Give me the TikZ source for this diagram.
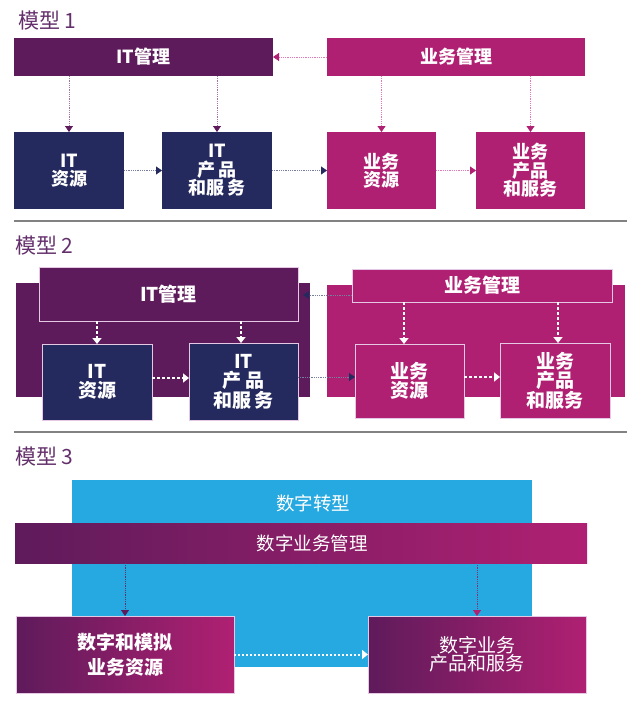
\documentclass[tikz,border=0pt]{standalone}
\usepackage{fontspec}
\setmainfont{Noto Sans CJK SC}
\usetikzlibrary{arrows.meta,calc}
\definecolor{dpur}{RGB}{94,27,91}
\definecolor{mag}{RGB}{176,32,114}
\definecolor{navyc}{RGB}{37,42,94}
\definecolor{sky}{RGB}{38,168,224}
\definecolor{ttlc}{RGB}{100,48,108}
\definecolor{edgec}{RGB}{228,200,228}
\definecolor{sepc}{RGB}{130,130,130}
\definecolor{lpur}{RGB}{165,115,165}
\definecolor{lmag}{RGB}{225,120,185}
\definecolor{lnavy}{RGB}{120,125,160}
\definecolor{mpur}{RGB}{105,45,105}
\definecolor{mmag}{RGB}{150,40,120}
\begin{document}
\begin{tikzpicture}[x=1pt,y=-1pt,
  blk/.style={inner sep=0pt, outer sep=0pt, align=center, text=white},
  fA/.style={font=\bfseries\fontsize{18}{18.5}\selectfont},
  fB/.style={font=\bfseries\fontsize{19}{19.5}\selectfont},
  ttl/.style={anchor=base west, inner sep=0pt, text=ttlc, font=\fontsize{21}{21}\selectfont},
  sepline/.style={draw=sepc, line width=1.4pt},
  bord/.style={draw=edgec, line width=0.9pt},
  arrP/.style={draw=lpur, densely dotted, line width=0.8pt, -{Triangle[length=6pt,width=8pt,color=dpur]}},
  arrM/.style={draw=lmag, densely dotted, line width=0.8pt, -{Triangle[length=6pt,width=8pt,color=mag]}},
  arrN/.style={draw=lnavy, densely dotted, line width=0.8pt, -{Triangle[length=6pt,width=8pt,color=navyc]}},
  arrP3/.style={draw=mpur, densely dotted, line width=0.8pt, -{Triangle[length=6pt,width=8pt,color=dpur]}},
  arrM3/.style={draw=mmag, densely dotted, line width=0.8pt, -{Triangle[length=6pt,width=8pt,color=mag]}},
  arrW/.style={draw=white, dash pattern=on 3pt off 2pt, line width=1.6pt, -{Triangle[length=6pt,width=9pt]}},
  arrW3/.style={draw=white, dash pattern=on 2pt off 2pt, line width=2pt, -{Triangle[length=6pt,width=9pt]}},
  grad/.style={left color=dpur, right color=mag}
]
\useasboundingbox (0,0) rectangle (641,713);

% ---------------- Model 1 ----------------
\node[ttl] (t1) at (18,28) {模型 1};
\node[blk,fA,fill=dpur,minimum width=259pt,minimum height=38pt] (itm1) at (143.5,57) {IT管理};
\node[blk,fA,fill=mag,minimum width=258pt,minimum height=38pt] (bm1) at (456,57) {业务管理};
\node[blk,fA,fill=navyc,minimum width=110pt,minimum height=77pt] (itr1) at (69,170.5) {IT\\资源};
\node[blk,fA,fill=navyc,minimum width=110pt,minimum height=77pt] (itp1) at (217,170.5) {IT\\产\,品\\和服\,务};
\node[blk,fA,fill=mag,minimum width=109pt,minimum height=77pt] (br1) at (381.5,170.5) {业务\\资源};
\node[blk,fA,fill=mag,minimum width=109pt,minimum height=77pt] (bp1) at (530.5,170.5) {业务\\产品\\和服务};

\draw[arrP] (itm1.south -| itr1.north) -- (itr1.north);
\draw[arrP] (itm1.south -| itp1.north) -- (itp1.north);
\draw[arrM] (bm1.south -| br1.north) -- (br1.north);
\draw[arrM] (bm1.south -| bp1.north) -- (bp1.north);
\draw[arrM] (bm1.west) -- (itm1.east);
\draw[arrN] (itr1.east) -- (itp1.west);
\draw[arrN] (itp1.east) -- (br1.west);
\draw[arrM] (br1.east) -- (bp1.west);

\draw[sepline] (14,221) -- (627,221);

% ---------------- Model 2 ----------------
\node[ttl] (t2) at (15,253) {模型 2};
\node[blk,fill=dpur,minimum width=294pt,minimum height=114pt] (bgit) at (163,340) {};
\node[blk,fill=mag,minimum width=298pt,minimum height=112pt] (bgb) at (476,341) {};
\node[blk,fB,bord,fill=dpur,minimum width=259pt,minimum height=54pt] (itm2) at (168.5,294) {IT管理};
\node[blk,fB,bord,fill=mag,minimum width=260pt,minimum height=33pt] (bm2) at (482,285.5) {业务管理};
\node[blk,fB,bord,fill=navyc,minimum width=110pt,minimum height=76pt] (itr2) at (97,382) {IT\\资源};
\node[blk,fB,bord,fill=navyc,minimum width=109pt,minimum height=77pt] (itp2) at (243.5,381.5) {IT\\产\,品\\和服\,务};
\node[blk,fB,bord,fill=mag,minimum width=109pt,minimum height=74pt] (br2) at (409.5,381) {业务\\资源};
\node[blk,fB,bord,fill=mag,minimum width=110pt,minimum height=75pt] (bp2) at (555,380.5) {业务\\产品\\和服务};

\coordinate (a1) at ([xshift=-2.5pt]itp2.north);
\coordinate (a2) at ([xshift=-5.5pt]br2.north);
\coordinate (a3) at ([xshift=3pt]bp2.north);
\draw[arrW] (itm2.south -| itr2.north) -- (itr2.north);
\draw[arrW] (itm2.south -| a1) -- (a1);
\draw[arrW] (bm2.south -| a2) -- (a2);
\draw[arrW] (bm2.south -| a3) -- (a3);
\coordinate (h1) at ([yshift=4pt]itr2.east);
\draw[arrW] (h1) -- (h1 -| itp2.west);
\coordinate (h2) at ([yshift=4pt]br2.east);
\draw[arrW] (h2) -- (h2 -| bp2.west);
\coordinate (h3) at ([yshift=4.5pt]itp2.east);
\draw[arrN] (h3) -- (h3 -| br2.west);
\coordinate (h4) at ([yshift=-9.5pt]bm2.west);
\coordinate (h4e) at ($(bgit.east)+(-7pt,0pt)$);
\draw[arrN] (h4) -- (h4 -| h4e);

\draw[sepline] (14,432) -- (627,432);

% ---------------- Model 3 ----------------
\node[ttl] (t3) at (15,464) {模型 3};
\node[blk,fill=sky,minimum width=460pt,minimum height=187pt] (dt) at (302,573.5) {};
\node[blk,font=\fontsize{18.5}{19}\selectfont] (dtt) at (313,503) {数字转型};
\node[blk,grad,minimum width=572pt,minimum height=40pt] (dbm) at (301,543) {};
\node[blk,font=\fontsize{18.5}{19}\selectfont] (dbmt) at (312,543) {数字业务管理};
\node[blk,grad,bord,font=\bfseries\fontsize{19}{25}\selectfont,minimum width=218pt,minimum height=77pt] (l3) at (125,654.5) {数字和模拟\\业务资源};
\node[blk,grad,bord,font=\fontsize{19}{18}\selectfont,minimum width=218pt,minimum height=77pt] (r3) at (477,654.5) {数字业务\\产品和服务};

\draw[arrP3] (dbm.south -| l3.north) -- (l3.north);
\draw[arrM3] (dbm.south -| r3.north) -- (r3.north);
\draw[arrW3] (l3.east) -- (r3.west);
\end{tikzpicture}
\end{document}
